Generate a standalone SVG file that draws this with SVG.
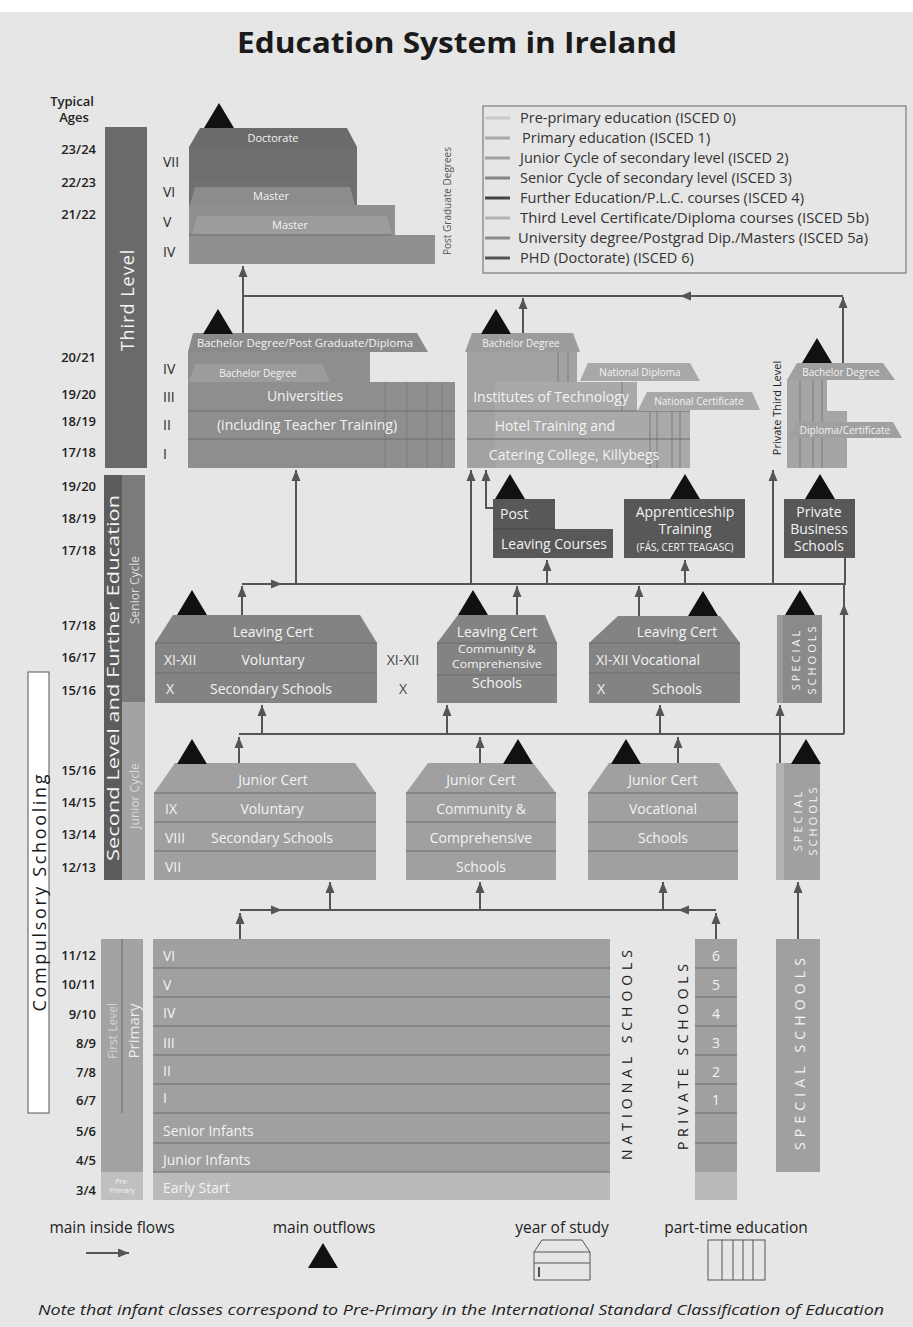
<svg xmlns="http://www.w3.org/2000/svg" width="913" height="1327" viewBox="0 0 913 1327">
<style>
text{font-family:"Open Sans","Liberation Sans",sans-serif}
.ttl{font-size:28px;font-weight:700;fill:#1a1a1a}
.age{font-size:13px;font-weight:600;fill:#222;text-anchor:end}
.rom{font-size:14px;fill:#2a2a2a}
.w{fill:#f3f3f3}
.c{text-anchor:middle}
.f10{font-size:10px}
.f11{font-size:11px}
.f12{font-size:12px}
.f13{font-size:14px}
.f14{font-size:14px}
.dk{fill:#222}
.ln{stroke:#555;stroke-width:2;fill:none}
.ar{marker-end:url(#ah)}
.tri{fill:#111}
.dv{stroke:#6c6c6c;stroke-width:1}
.pt{stroke:#7c7c7c;stroke-width:1}
.lg{font-size:14.5px;fill:#333}
.sw{stroke-width:3}
.rot{dominant-baseline:central;text-anchor:middle}
.key{font-size:15.5px;fill:#222;text-anchor:middle}
</style>
<defs>
<marker id="ah" markerWidth="11" markerHeight="10" refX="11" refY="5" orient="auto" markerUnits="userSpaceOnUse">
<path d="M0,0.5 L11,5 L0,9.5 z" fill="#555"/>
</marker>
<path id="tr" d="M0,0 L15,25 L-15,25 z"/>
</defs>
<rect x="0" y="0" width="913" height="1327" fill="#e6e6e6"/>
<rect x="0" y="0" width="913" height="12" fill="#ffffff"/>
<text class="ttl c" x="457" y="53" textLength="440" lengthAdjust="spacingAndGlyphs">Education System in Ireland</text>

<!-- ages -->
<g id="ages">
<text class="age c" x="72" y="106" style="text-anchor:middle">Typical</text>
<text class="age c" x="74" y="122" style="text-anchor:middle">Ages</text>
<text class="age" x="96" y="154">23/24</text>
<text class="age" x="96" y="187">22/23</text>
<text class="age" x="96" y="219">21/22</text>
<text class="age" x="96" y="362">20/21</text>
<text class="age" x="96" y="399">19/20</text>
<text class="age" x="96" y="426">18/19</text>
<text class="age" x="96" y="457">17/18</text>
<text class="age" x="96" y="491">19/20</text>
<text class="age" x="96" y="523">18/19</text>
<text class="age" x="96" y="555">17/18</text>
<text class="age" x="96" y="630">17/18</text>
<text class="age" x="96" y="662">16/17</text>
<text class="age" x="96" y="695">15/16</text>
<text class="age" x="96" y="775">15/16</text>
<text class="age" x="96" y="807">14/15</text>
<text class="age" x="96" y="839">13/14</text>
<text class="age" x="96" y="872">12/13</text>
<text class="age" x="96" y="960">11/12</text>
<text class="age" x="96" y="989">10/11</text>
<text class="age" x="96" y="1019">9/10</text>
<text class="age" x="96" y="1048">8/9</text>
<text class="age" x="96" y="1077">7/8</text>
<text class="age" x="96" y="1105">6/7</text>
<text class="age" x="96" y="1136">5/6</text>
<text class="age" x="96" y="1165">4/5</text>
<text class="age" x="96" y="1195">3/4</text>
</g>

<!-- level bars -->
<g id="bar-third">
<rect x="105" y="127" width="42" height="341" fill="#6a6a6a"/>
<text class="w rot" transform="translate(127,300) rotate(-90)" style="font-size:18px;letter-spacing:1px">Third Level</text>
</g>
<g id="bar-second">
<rect x="104" y="475" width="18" height="405" fill="#5c5c5c"/>
<rect x="122" y="475" width="23" height="227" fill="#7b7b7b"/>
<rect x="122" y="702" width="23" height="178" fill="#a3a3a3"/>
<text class="w rot" transform="translate(113,678) rotate(-90)" style="font-size:16px" textLength="366" lengthAdjust="spacingAndGlyphs">Second Level and Further Education</text>
<text class="rot" transform="translate(134,590) rotate(-90)" style="font-size:12px;fill:#dedede">Senior Cycle</text>
<text class="rot" transform="translate(134,796) rotate(-90)" style="font-size:12px;fill:#dadada">Junior Cycle</text>
</g>
<g id="bar-compulsory">
<rect x="28" y="672" width="21" height="441" fill="#ffffff" stroke="#555" stroke-width="1"/>
<text class="rot" transform="translate(39,893) rotate(-90)" style="font-size:18px;fill:#1a1a1a" textLength="237" lengthAdjust="spacing">Compulsory Schooling</text>
</g>
<g id="bar-primary">
<rect x="101" y="939" width="42" height="233" fill="#a3a3a3"/>
<line x1="122" y1="939" x2="122" y2="1113" stroke="#666" stroke-width="1"/>
<rect x="101" y="1172" width="42" height="28" fill="#c0c0c0"/>
<text class="rot" transform="translate(112,1031) rotate(-90)" style="font-size:12px;fill:#d4d4d4">First Level</text>
<text class="rot" transform="translate(133,1031) rotate(-90)" style="font-size:15px;fill:#ececec">Primary</text>
<text class="w c" x="122" y="1184" style="font-size:7px">Pre-</text>
<text class="w c" x="122" y="1193" style="font-size:7px">Primary</text>
</g>

<!-- legend -->
<g id="legend">
<rect x="483" y="106" width="423" height="167" fill="none" stroke="#666" stroke-width="1"/>
<line class="sw" x1="485" y1="118" x2="510" y2="118" stroke="#cacaca"/>
<line class="sw" x1="485" y1="138" x2="510" y2="138" stroke="#a8a8a8"/>
<line class="sw" x1="485" y1="158" x2="510" y2="158" stroke="#a0a0a0"/>
<line class="sw" x1="485" y1="178" x2="510" y2="178" stroke="#858585"/>
<line class="sw" x1="485" y1="198" x2="510" y2="198" stroke="#444"/>
<line class="sw" x1="485" y1="218" x2="510" y2="218" stroke="#b4b4b4"/>
<line class="sw" x1="485" y1="238" x2="510" y2="238" stroke="#8c8c8c"/>
<line class="sw" x1="485" y1="258" x2="510" y2="258" stroke="#555"/>
<text class="lg" x="520" y="123">Pre-primary education (ISCED 0)</text>
<text class="lg" x="522" y="143">Primary education (ISCED 1)</text>
<text class="lg" x="520" y="163">Junior Cycle of secondary level (ISCED 2)</text>
<text class="lg" x="520" y="183">Senior Cycle of secondary level (ISCED 3)</text>
<text class="lg" x="520" y="203">Further Education/P.L.C. courses (ISCED 4)</text>
<text class="lg" x="520" y="223" textLength="349" lengthAdjust="spacingAndGlyphs">Third Level Certificate/Diploma courses (ISCED 5b)</text>
<text class="lg" x="518" y="243" textLength="350" lengthAdjust="spacingAndGlyphs">University degree/Postgrad Dip./Masters (ISCED 5a)</text>
<text class="lg" x="520" y="263">PHD (Doctorate) (ISCED 6)</text>
</g>

<!-- connectors -->
<g id="connectors">
<path class="ln ar" d="M243,334 V266"/>
<path class="ln" d="M243,296 H680"/>
<path class="ln ar" d="M843,296 H680"/>
<path class="ln ar" d="M523,334 V298"/>
<path class="ln ar" d="M843,363 V297"/>
<path class="ln ar" d="M296,584 V470"/>
<path class="ln ar" d="M471,584 V470"/>
<path class="ln ar" d="M493,508 H486 V470"/>
<path class="ln ar" d="M547,584 V560"/>
<path class="ln ar" d="M685,584 V560"/>
<path class="ln ar" d="M773,584 V470"/>
<path class="ln ar" d="M242,584 H282"/>
<path class="ln" d="M282,584 H845 V558"/>
<path class="ln ar" d="M242,615 V586"/>
<path class="ln ar" d="M517,615 V586"/>
<path class="ln ar" d="M639,616 V586"/>
<path class="ln ar" d="M844,734 V604"/>
<path class="ln" d="M844,606 V584"/>
<path class="ln" d="M239,734 H844"/>
<path class="ln ar" d="M239,763 V737"/>
<path class="ln ar" d="M480,763 V737"/>
<path class="ln ar" d="M678,763 V737"/>
<path class="ln ar" d="M262,734 V705"/>
<path class="ln ar" d="M447,734 V705"/>
<path class="ln ar" d="M660,734 V705"/>
<path class="ln ar" d="M780,763 V705"/>
<path class="ln ar" d="M240,910 H282"/>
<path class="ln" d="M282,910 H680"/>
<path class="ln ar" d="M716,910 H678"/>
<path class="ln ar" d="M240,939 V913"/>
<path class="ln ar" d="M716,939 V913"/>
<path class="ln ar" d="M330,910 V882"/>
<path class="ln ar" d="M480,910 V882"/>
<path class="ln ar" d="M663,910 V882"/>
<path class="ln ar" d="M798,939 V882"/>
</g>

<!-- postgraduate -->
<g id="node-doctorate">
<polygon points="200,128 347,128 357,147 189,147" fill="#6b6b6b"/>
<text class="w c f11" x="273" y="142">Doctorate</text>
<rect x="189" y="147" width="168" height="30" fill="#6e6e6e"/>
<rect x="189" y="177" width="168" height="28" fill="#707070"/>
<polygon points="195,187 350,187 355,205 190,205" fill="#8c8c8c"/>
<text class="w c f11" x="271" y="200">Master</text>
<rect x="189" y="205" width="206" height="30" fill="#8f8f8f"/>
<polygon points="197,216 387,216 392,235 192,235" fill="#9c9c9c"/>
<text class="w c f11" x="290" y="229">Master</text>
<rect x="189" y="235" width="246" height="29" fill="#8f8f8f"/>
<line class="dv" x1="189" y1="147" x2="357" y2="147"/>
<line class="dv" x1="189" y1="177" x2="357" y2="177"/>
<line class="dv" x1="189" y1="235" x2="392" y2="235"/>
<text class="rom" x="163" y="167">VII</text>
<text class="rom" x="163" y="197">VI</text>
<text class="rom" x="163" y="227">V</text>
<text class="rom" x="163" y="257">IV</text>
<text class="rot" transform="translate(447,201) rotate(-90)" style="font-size:10px;fill:#555">Post Graduate Degrees</text>
<use href="#tr" x="219" y="103" class="tri"/>
</g>

<g id="node-universities">
<polygon points="193,333 417,333 428,352 188,352" fill="#8a8a8a"/>
<text class="w f10" x="197" y="347" textLength="216" lengthAdjust="spacingAndGlyphs">Bachelor Degree/Post Graduate/Diploma</text>
<rect x="188" y="352" width="182" height="30" fill="#8e8e8e"/>
<polygon points="196,364 322,364 330,382 188,382" fill="#9c9c9c"/>
<text class="w c f10" x="258" y="377">Bachelor Degree</text>
<rect x="188" y="382" width="267" height="86" fill="#8e8e8e"/>
<line class="pt" x1="385" y1="382" x2="385" y2="468"/>
<line class="pt" x1="407" y1="382" x2="407" y2="468"/>
<line class="pt" x1="427" y1="382" x2="427" y2="468"/>
<line class="pt" x1="442" y1="382" x2="442" y2="468"/>
<line class="dv" x1="188" y1="411" x2="455" y2="411"/>
<line class="dv" x1="188" y1="439" x2="455" y2="439"/>
<text class="w c f14" x="305" y="401">Universities</text>
<text class="w c f14" x="307" y="430">(including Teacher Training)</text>
<text class="rom" x="163" y="374">IV</text>
<text class="rom" x="163" y="402">III</text>
<text class="rom" x="163" y="430">II</text>
<text class="rom" x="163" y="459">I</text>
<use href="#tr" x="218" y="309" class="tri"/>
</g>

<g id="node-institutes">
<polygon points="472,333 573,333 580,352 465,352" fill="#9c9c9c"/>
<text class="w c f10" x="521" y="347">Bachelor Degree</text>
<rect x="467" y="352" width="110" height="30" fill="#a2a2a2"/>
<polygon points="588,363 690,363 700,381 580,381" fill="#a8a8a8"/>
<text class="w c f10" x="640" y="376">National Diploma</text>
<rect x="467" y="382" width="170" height="29" fill="#a2a2a2"/>
<rect x="467" y="411" width="223" height="57" fill="#a2a2a2"/>
<rect x="495" y="382" width="142" height="29" fill="#a9a9a9"/>
<rect x="495" y="411" width="195" height="57" fill="#a9a9a9"/>
<line class="pt" x1="558" y1="352" x2="558" y2="382"/>
<line class="pt" x1="568" y1="352" x2="568" y2="382"/>
<line class="pt" x1="622" y1="382" x2="622" y2="411"/>
<line class="pt" x1="650" y1="411" x2="650" y2="468"/>
<line class="pt" x1="657" y1="411" x2="657" y2="468"/>
<line class="pt" x1="672" y1="411" x2="672" y2="468"/>
<line class="pt" x1="680" y1="411" x2="680" y2="468"/>
<polygon points="647,392 752,392 760,410 638,410" fill="#a8a8a8"/>
<text class="w c f10" x="699" y="405">National Certificate</text>
<line class="dv" x1="467" y1="411" x2="690" y2="411"/>
<line class="dv" x1="467" y1="439" x2="690" y2="439"/>
<text class="w c f14" x="551" y="402">Institutes of Technology</text>
<text class="w c f14" x="555" y="431">Hotel Training and</text>
<text class="w c f14" x="574" y="460">Catering College, Killybegs</text>
<use href="#tr" x="496" y="309" class="tri"/>
</g>

<g id="node-private-third">
<rect x="787" y="380" width="40" height="31" fill="#a5a5a5"/>
<rect x="787" y="411" width="60" height="57" fill="#a5a5a5"/>
<line class="pt" x1="800" y1="380" x2="800" y2="468"/>
<line class="pt" x1="813" y1="380" x2="813" y2="468"/>
<line class="pt" x1="822" y1="380" x2="822" y2="468"/>
<polygon points="797,363 883,363 895,380 787,380" fill="#a0a0a0"/>
<text class="w c f10" x="841" y="376">Bachelor Degree</text>
<polygon points="797,422 893,422 902,438 788,438" fill="#a0a0a0"/>
<text class="w c f10" x="845" y="434">Diploma/Certificate</text>
<text class="rot" transform="translate(776,408) rotate(-90)" style="font-size:11px;fill:#222">Private Third Level</text>
<use href="#tr" x="817" y="338" class="tri"/>
</g>

<!-- further education -->
<g id="node-plc">
<path d="M493,499 H555 V529 H613 V558 H493 Z" fill="#585858"/>
<line x1="493" y1="529" x2="555" y2="529" stroke="#444" stroke-width="1"/>
<text class="w f14" x="500" y="519">Post</text>
<text class="w c f14" x="554" y="549">Leaving Courses</text>
<use href="#tr" x="510" y="474" class="tri"/>
</g>
<g id="node-apprenticeship">
<rect x="624" y="499" width="121" height="59" fill="#585858"/>
<text class="w c f14" x="685" y="517">Apprenticeship</text>
<text class="w c f14" x="685" y="534">Training</text>
<text class="w c f10" x="685" y="551">(FÁS, CERT TEAGASC)</text>
<use href="#tr" x="685" y="474" class="tri"/>
</g>
<g id="node-private-business">
<rect x="784" y="499" width="71" height="59" fill="#585858"/>
<text class="w c f14" x="819" y="517">Private</text>
<text class="w c f14" x="819" y="534">Business</text>
<text class="w c f14" x="819" y="551">Schools</text>
<use href="#tr" x="820" y="474" class="tri"/>
</g>

<!-- senior cycle -->
<g id="node-senior-voluntary">
<polygon points="173,615 360,615 377,643 155,643" fill="#838383"/>
<rect x="155" y="643" width="222" height="60" fill="#838383"/>
<line class="dv" x1="155" y1="643" x2="377" y2="643"/>
<line class="dv" x1="155" y1="673" x2="377" y2="673"/>
<text class="w c f13" x="273" y="637">Leaving Cert</text>
<text class="w f13" x="164" y="665">XI-XII</text>
<text class="w c f13" x="273" y="665">Voluntary</text>
<text class="w f13" x="166" y="694">X</text>
<text class="w c f13" x="271" y="694">Secondary Schools</text>
<use href="#tr" x="192" y="590" class="tri"/>
</g>
<text class="f13 c" x="403" y="665" fill="#444">XI-XII</text>
<text class="f13 c" x="403" y="694" fill="#444">X</text>
<g id="node-senior-community">
<polygon points="458,615 545,615 557,643 437,643" fill="#838383"/>
<rect x="437" y="643" width="120" height="60" fill="#838383"/>
<line class="dv" x1="437" y1="643" x2="557" y2="643"/>
<line class="dv" x1="437" y1="675" x2="557" y2="675"/>
<text class="w c f13" x="497" y="637">Leaving Cert</text>
<text class="w c f11" x="497" y="653" textLength="78" lengthAdjust="spacingAndGlyphs">Community &amp;</text>
<text class="w c f11" x="497" y="668" textLength="90" lengthAdjust="spacingAndGlyphs">Comprehensive</text>
<text class="w c f13" x="497" y="688">Schools</text>
<use href="#tr" x="473" y="590" class="tri"/>
</g>
<g id="node-senior-vocational">
<polygon points="618,616 720,616 740,643 589,643" fill="#838383"/>
<rect x="589" y="643" width="151" height="60" fill="#838383"/>
<line class="dv" x1="589" y1="643" x2="740" y2="643"/>
<line class="dv" x1="589" y1="673" x2="740" y2="673"/>
<text class="w c f13" x="677" y="637">Leaving Cert</text>
<text class="w f13" x="596" y="665">XI-XII Vocational</text>
<text class="w f13" x="597" y="694">X</text>
<text class="w c f13" x="677" y="694">Schools</text>
<use href="#tr" x="703" y="591" class="tri"/>
</g>
<g id="node-senior-special">
<rect x="777" y="615" width="45" height="88" fill="#8a8a8a"/>
<rect x="777" y="615" width="6" height="88" fill="#9c9c9c"/>
<text class="w rot" transform="translate(795,659) rotate(-90)" style="font-size:11px;letter-spacing:3px">SPECIAL</text>
<text class="w rot" transform="translate(811,659) rotate(-90)" style="font-size:11px;letter-spacing:3px">SCHOOLS</text>
<use href="#tr" x="800" y="590" class="tri"/>
</g>

<!-- junior cycle -->
<g id="node-junior-voluntary">
<polygon points="175,763 355,763 376,793 154,793" fill="#a0a0a0"/>
<rect x="154" y="793" width="222" height="87" fill="#a0a0a0"/>
<line class="dv" x1="154" y1="793" x2="376" y2="793"/>
<line class="dv" x1="154" y1="822" x2="376" y2="822"/>
<line class="dv" x1="154" y1="851" x2="376" y2="851"/>
<text class="w c f13" x="273" y="785">Junior Cert</text>
<text class="w f13" x="165" y="814">IX</text>
<text class="w c f13" x="272" y="814">Voluntary</text>
<text class="w f13" x="165" y="843">VIII</text>
<text class="w c f13" x="272" y="843">Secondary Schools</text>
<text class="w f13" x="165" y="872">VII</text>
<use href="#tr" x="192" y="739" class="tri"/>
</g>
<g id="node-junior-community">
<polygon points="428,763 533,763 556,793 406,793" fill="#a0a0a0"/>
<rect x="406" y="793" width="150" height="87" fill="#a0a0a0"/>
<line class="dv" x1="406" y1="793" x2="556" y2="793"/>
<line class="dv" x1="406" y1="822" x2="556" y2="822"/>
<line class="dv" x1="406" y1="851" x2="556" y2="851"/>
<text class="w c f13" x="481" y="785">Junior Cert</text>
<text class="w c f13" x="481" y="814">Community &amp;</text>
<text class="w c f13" x="481" y="843">Comprehensive</text>
<text class="w c f13" x="481" y="872">Schools</text>
<use href="#tr" x="518" y="739" class="tri"/>
</g>
<g id="node-junior-vocational">
<polygon points="609,763 719,763 738,793 588,793" fill="#a0a0a0"/>
<rect x="588" y="793" width="150" height="87" fill="#a0a0a0"/>
<line class="dv" x1="588" y1="793" x2="738" y2="793"/>
<line class="dv" x1="588" y1="822" x2="738" y2="822"/>
<line class="dv" x1="588" y1="851" x2="738" y2="851"/>
<text class="w c f13" x="663" y="785">Junior Cert</text>
<text class="w c f13" x="663" y="814">Vocational</text>
<text class="w c f13" x="663" y="843">Schools</text>
<use href="#tr" x="626" y="739" class="tri"/>
</g>
<g id="node-junior-special">
<rect x="776" y="763" width="44" height="117" fill="#a0a0a0"/>
<rect x="776" y="763" width="8" height="117" fill="#b2b2b2"/>
<text class="w rot" transform="translate(797,820) rotate(-90)" style="font-size:11px;letter-spacing:3px">SPECIAL</text>
<text class="w rot" transform="translate(812,820) rotate(-90)" style="font-size:11px;letter-spacing:3px">SCHOOLS</text>
<use href="#tr" x="806" y="739" class="tri"/>
</g>

<!-- primary -->
<g id="node-national-schools">
<rect x="153" y="939" width="457" height="233" fill="#a0a0a0"/>
<rect x="153" y="1172" width="457" height="28" fill="#bababa"/>
<g class="dv">
<line x1="153" y1="968" x2="610" y2="968"/>
<line x1="153" y1="997" x2="610" y2="997"/>
<line x1="153" y1="1026" x2="610" y2="1026"/>
<line x1="153" y1="1055" x2="610" y2="1055"/>
<line x1="153" y1="1084" x2="610" y2="1084"/>
<line x1="153" y1="1113" x2="610" y2="1113"/>
<line x1="153" y1="1143" x2="610" y2="1143"/>
<line x1="153" y1="1172" x2="610" y2="1172"/>
</g>
<text class="w f13" x="163" y="961">VI</text>
<text class="w f13" x="163" y="990">V</text>
<text class="w f13" x="163" y="1018">IV</text>
<text class="w f13" x="163" y="1048">III</text>
<text class="w f13" x="163" y="1076">II</text>
<text class="w f13" x="163" y="1103">I</text>
<text class="w f13" x="163" y="1136">Senior Infants</text>
<text class="w f13" x="163" y="1165">Junior Infants</text>
<text class="w f13" x="163" y="1193">Early Start</text>
<text class="rot" transform="translate(626,1055) rotate(-90)" style="font-size:14px;fill:#222" textLength="210" lengthAdjust="spacing">NATIONAL SCHOOLS</text>
</g>
<g id="node-private-schools">
<rect x="695" y="939" width="42" height="233" fill="#a0a0a0"/>
<rect x="695" y="1172" width="42" height="28" fill="#bababa"/>
<g class="dv">
<line x1="695" y1="968" x2="737" y2="968"/>
<line x1="695" y1="997" x2="737" y2="997"/>
<line x1="695" y1="1026" x2="737" y2="1026"/>
<line x1="695" y1="1055" x2="737" y2="1055"/>
<line x1="695" y1="1084" x2="737" y2="1084"/>
<line x1="695" y1="1113" x2="737" y2="1113"/>
<line x1="695" y1="1143" x2="737" y2="1143"/>
</g>
<text class="w c f14" x="716" y="961">6</text>
<text class="w c f14" x="716" y="990">5</text>
<text class="w c f14" x="716" y="1019">4</text>
<text class="w c f14" x="716" y="1048">3</text>
<text class="w c f14" x="716" y="1077">2</text>
<text class="w c f14" x="716" y="1105">1</text>
<text class="rot" transform="translate(682,1057) rotate(-90)" style="font-size:14px;fill:#222" textLength="186" lengthAdjust="spacing">PRIVATE SCHOOLS</text>
</g>
<g id="node-special-primary">
<rect x="776" y="939" width="44" height="233" fill="#a0a0a0"/>
<text class="w rot" transform="translate(799,1054) rotate(-90)" style="font-size:14px" textLength="192" lengthAdjust="spacing">SPECIAL SCHOOLS</text>
</g>

<!-- key -->
<g id="key">
<text class="key" x="112" y="1233">main inside flows</text>
<path class="ln ar" d="M86,1253 H129"/>
<text class="key" x="324" y="1233">main outflows</text>
<use href="#tr" x="323" y="1243" class="tri"/>
<text class="key" x="562" y="1233">year of study</text>
<path d="M542,1240 H582 L590,1252 V1280 H534 V1252 Z M534,1252 H590 M534,1263 H590" fill="none" stroke="#555" stroke-width="1"/>
<line x1="539" y1="1267" x2="539" y2="1277" stroke="#222" stroke-width="1.5"/>
<text class="key" x="736" y="1233">part-time education</text>
<rect x="708" y="1240" width="57" height="40" fill="none" stroke="#555" stroke-width="1"/>
<path d="M722,1240 V1280 M733,1240 V1280 M743,1240 V1280 M753,1240 V1280" stroke="#555" stroke-width="1"/>
<text x="461" y="1315" class="c" style="font-size:15px;font-style:italic;fill:#222" textLength="846" lengthAdjust="spacingAndGlyphs">Note that infant classes correspond to Pre-Primary in the International Standard Classification of Education</text>
</g>
</svg>
